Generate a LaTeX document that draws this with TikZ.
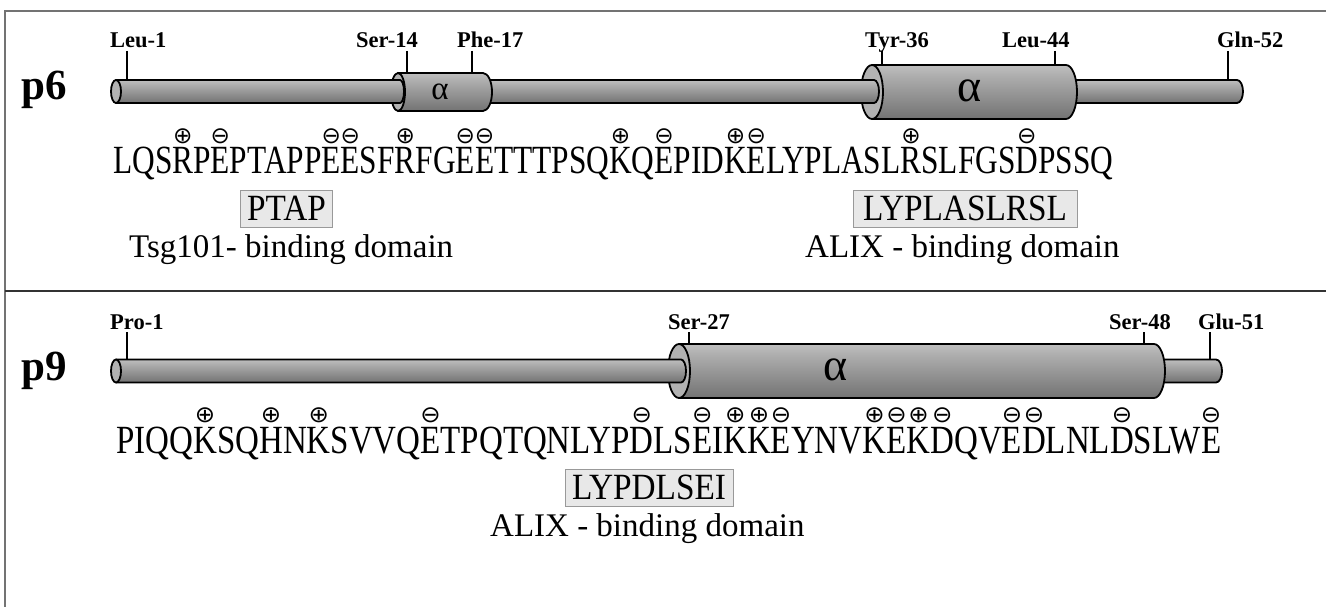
\documentclass[tikz,border=0pt]{standalone}
\usepackage{fontspec}
\usepackage{graphicx}
\setmainfont{Liberation Serif}
\newfontfamily\seqfont[FakeStretch=0.78]{Liberation Serif}
\newfontfamily\boxfont[FakeStretch=0.9]{Liberation Serif}
\newfontfamily\chgfont{DejaVu Sans}
\newcommand\chgmark[2]{\leavevmode\setbox0\hbox{#2}\rlap{\hbox to\wd0{\hss\raisebox{30.5pt}{\fontsize{23}{23}\chgfont #1}\hss}}\box0}
\newcommand\pls[1]{\chgmark{\char"2295}{#1}}
\newcommand\mns[1]{\chgmark{\char"2296}{#1}}
\pgfdeclareverticalshading{tubeshade}{100bp}{color(0bp)=(black!68); color(25bp)=(black!55); color(65bp)=(black!32); color(88bp)=(black!16); color(100bp)=(black!30)}
% thin segment: #1 x start, #2 x end, #3 centre y, #4 radius, #5 cap x radius
\newcommand\thinseg[5]{\shade[shading=tubeshade, draw=black, line width=1.8pt, line join=round] (#1,#3-#4) -- (#2,#3-#4) arc[start angle=-90, end angle=90, x radius=#5, y radius=#4] -- (#1,#3+#4) -- cycle;}
% helix: #1 x start, #2 x end, #3 centre y, #4 radius, #5 face x radius, #6 end x radius
\newcommand\helix[6]{\shade[shading=tubeshade, draw=black, line width=1.8pt, line join=round] (#1,#3-#4) -- (#2,#3-#4) arc[start angle=-90, end angle=90, x radius=#6, y radius=#4] -- (#1,#3+#4) -- cycle;
\draw[fill=black!30, line width=1.8pt] (#1,#3) ellipse[x radius=#5, y radius=#4];}
\begin{document}
\begin{tikzpicture}[x=1pt,y=-1pt,
  lbl/.style={font=\fontsize{22.5}{22.5}\selectfont\bfseries, anchor=base west, inner sep=0},
  ticklin/.style={line width=1.8pt},
  seqrow/.style={font=\fontsize{40}{42}\seqfont, anchor=base west, inner sep=0},
  motif/.style={draw=black!40, fill=black!9, line width=0.9pt, font=\fontsize{37}{38}\boxfont, inner xsep=7pt, inner ysep=0pt, minimum height=37pt},
  domlbl/.style={font=\fontsize{33}{35}\selectfont, anchor=base west, inner sep=0},
  ptitle/.style={font=\fontsize{43}{43}\selectfont\bfseries, anchor=base west, inner sep=0},
  alph/.style={inner sep=0, text=black}]
\useasboundingbox (0,0) rectangle (1326,607);
% frame
\draw[black!55, line width=1.2pt] (5,607) -- (5,11) -- (1326,11);
\draw[black!80, line width=1.5pt] (5,291) -- (1326,291);

% ---------------- p6 ----------------
\node[ptitle] (p6) at (21,100) {p6};
\thinseg{1060}{1237}{91.5}{11.5}{6}
\helix{872}{1066}{92}{27}{11}{11}
\thinseg{480}{874}{91.5}{11.5}{5}
\helix{398}{483}{92}{19}{7}{9}
\thinseg{116}{400}{91.5}{11.5}{4}
\draw[fill=black!30, line width=1.8pt] (116,91.5) ellipse[x radius=5, y radius=11.5];
\node[alph, font=\fontsize{33}{33}\selectfont] (a1) at (440,92) {α};
\node[alph, font=\fontsize{46}{46}\selectfont] (a2) at (970,91) {α};

\node[lbl] (l1) at (110,48) {Leu-1};
\node[lbl] (l14) at (356,48) {Ser-14};
\node[lbl] (l17) at (457,48) {Phe-17};
\node[lbl] (l36) at (865,48) {Tyr-36};
\node[lbl] (l44) at (1002,48) {Leu-44};
\node[lbl] (l52) at (1217,48) {Gln-52};
\coordinate (t1a) at (127,51);  \coordinate (t1b) at (127,80);
\coordinate (t14a) at (407,51); \coordinate (t14b) at (407,73);
\coordinate (t17a) at (472,51); \coordinate (t17b) at (472,73);
\coordinate (t36a) at (882,51); \coordinate (t36b) at (882,65);
\coordinate (t44a) at (1055,51);\coordinate (t44b) at (1055,65);
\coordinate (t52a) at (1228,51);\coordinate (t52b) at (1228,80);
\foreach \t in {t1,t14,t17,t36,t44,t52} \draw[ticklin] (\t a) -- (\t b);

\node[seqrow] (s1) at (113,174) {\resizebox{1000pt}{\height}{LQS\pls{R}P\mns{E}PTAPP\mns{E}\mns{E}SF\pls{R}FG\mns{E}\mns{E}TTTPSQ\pls{K}Q\mns{E}PID\pls{K}\mns{E}LYPLASL\pls{R}SLFGS\mns{D}PSSQ}};
\node[motif] (m1) at (286.5,208.5) {PTAP};
\node[motif, inner xsep=10pt] (m2) at (965,208.5) {LYPLASLRSL};
\node[domlbl] (d1) at (129,257) {Tsg101- binding domain};
\node[domlbl] (d2) at (805,257) {ALIX - binding domain};

% ---------------- p9 ----------------
\node[ptitle] (p9) at (21,380) {p9};
\thinseg{1150}{1216}{371}{11.5}{6}
\helix{679}{1154}{371}{27}{11}{11}
\thinseg{116}{681}{371}{11.5}{5}
\draw[fill=black!30, line width=1.8pt] (116,371) ellipse[x radius=5, y radius=11.5];
\node[alph, font=\fontsize{46}{46}\selectfont] (a3) at (836,370) {α};

\node[lbl] (q1) at (110,329) {Pro-1};
\node[lbl] (q27) at (668,329) {Ser-27};
\node[lbl] (q48) at (1109,329) {Ser-48};
\node[lbl] (q51) at (1198,329) {Glu-51};
\coordinate (u1a) at (127,332);  \coordinate (u1b) at (127,359.5);
\coordinate (u27a) at (689,332); \coordinate (u27b) at (689,344);
\coordinate (u48a) at (1144,332);\coordinate (u48b) at (1144,344);
\coordinate (u51a) at (1210,332);\coordinate (u51b) at (1210,359.5);
\foreach \t in {u1,u27,u48,u51} \draw[ticklin] (\t a) -- (\t b);

\node[seqrow] (s2) at (116,453) {\resizebox{1105pt}{\height}{PIQQ\pls{K}SQ\pls{H}N\pls{K}SVVQ\mns{E}TPQTQNLYP\mns{D}LS\mns{E}I\pls{K}\pls{K}\mns{E}YNV\pls{K}\mns{E}\pls{K}\mns{D}QV\mns{E}\mns{D}LNL\mns{D}SLW\mns{E}}};
\node[motif] (m3) at (649,487.5) {LYPDLSEI};
\node[domlbl] (d3) at (490,536) {ALIX - binding domain};
\end{tikzpicture}
\end{document}
